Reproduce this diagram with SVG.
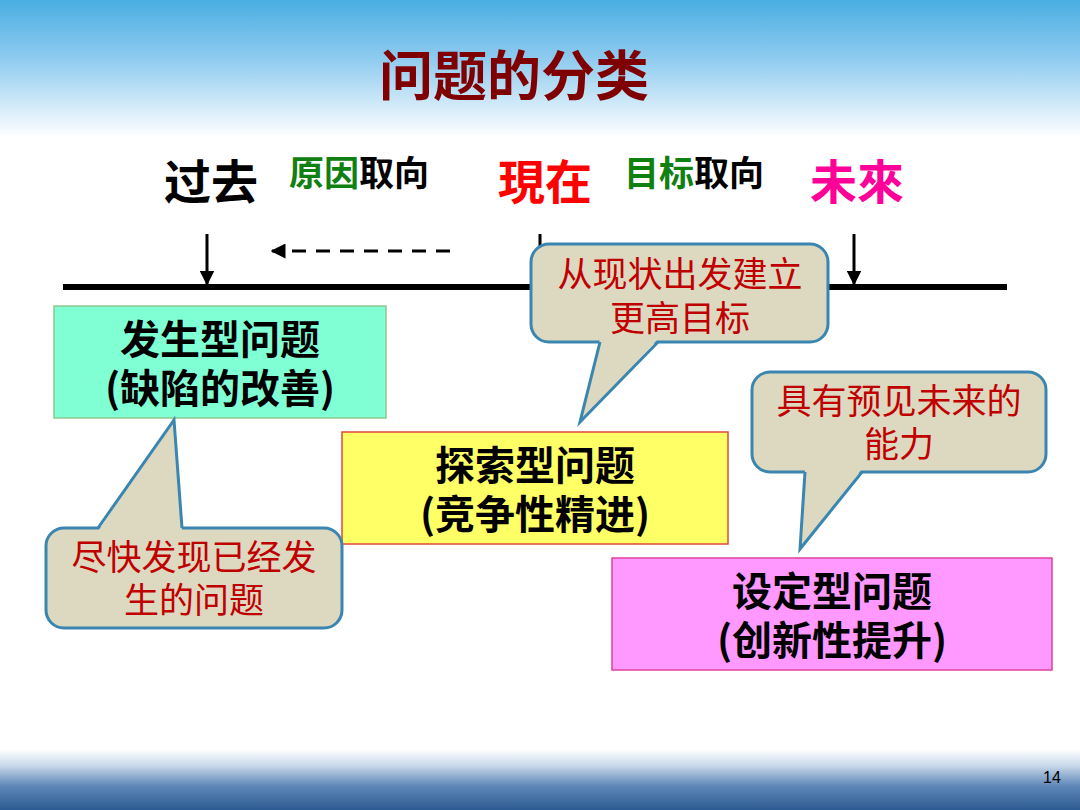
<svg xmlns="http://www.w3.org/2000/svg" width="1080" height="810" viewBox="0 0 1080 810">
<defs>
<linearGradient id="bg" x1="0" y1="0" x2="0" y2="1">
<stop offset="0" stop-color="#4aaee2"/>
<stop offset="0.07" stop-color="#8ccaef"/>
<stop offset="0.17" stop-color="#ffffff"/>
<stop offset="0.925" stop-color="#ffffff"/>
<stop offset="0.945" stop-color="#c9d9ea"/>
<stop offset="0.97" stop-color="#5f88b8"/>
<stop offset="1" stop-color="#2c5a92"/>
</linearGradient>
<marker id="ah" viewBox="0 0 10 10" refX="9" refY="5" markerWidth="5" markerHeight="5" orient="auto"><path d="M0,0 L10,5 L0,10 z" fill="#000"/></marker>
</defs>
<style>
.t{font-family:"Noto Sans CJK SC","Liberation Sans",sans-serif;text-anchor:middle}
.b{font-weight:bold}
.call{fill:#ddd8c0;stroke:#3a86b0;stroke-width:3}
.ct{fill:#c00000;font-size:35px}
.bx{font-size:40px;font-weight:bold;fill:#000}
</style>
<rect width="1080" height="810" fill="url(#bg)"/>
<text class="t b" x="514" y="96" font-size="54" fill="#7f0000">问题的分类</text>
<g id="labels">
<text class="t b" x="211" y="199" font-size="47" fill="#000">过去</text>
<text class="t b" x="359" y="186" font-size="35" fill="#000"><tspan fill="#108010">原因</tspan>取向</text>
<text class="t b" x="545" y="199" font-size="47" fill="#ff0000">現在</text>
<text class="t b" x="694" y="186" font-size="35" fill="#000"><tspan fill="#108010">目标</tspan>取向</text>
<text class="t b" x="857" y="199" font-size="47" fill="#ff0099">未來</text>
</g>
<g id="connectors" stroke="#000">
<line x1="63" y1="287" x2="1007" y2="287" stroke-width="6"/>
<line x1="207" y1="234" x2="207" y2="284" stroke-width="3" marker-end="url(#ah)"/>
<line x1="854" y1="234" x2="854" y2="284" stroke-width="3" marker-end="url(#ah)"/>
<line x1="540" y1="234" x2="540" y2="260" stroke-width="3"/>
<line x1="450" y1="251" x2="272" y2="251" stroke-width="3" stroke-dasharray="14,10" marker-end="url(#ah)"/>
</g>
<g id="node-fasheng">
<rect x="54" y="306" width="332" height="112" fill="#80ffd4" stroke="#90c890" stroke-width="1.5"/>
<text class="t bx" x="220" y="354">发生型问题</text>
<text class="t bx" x="220" y="403">(缺陷的改善)</text>
</g>
<g id="node-tansuo">
<rect x="342" y="432" width="386" height="112" fill="#ffff66" stroke="#e04a3a" stroke-width="1.5"/>
<text class="t bx" x="535" y="480">探索型问题</text>
<text class="t bx" x="535" y="529">(竞争性精进)</text>
</g>
<g id="node-sheding">
<rect x="612" y="558" width="440" height="112" fill="#ff99ff" stroke="#e0409a" stroke-width="1.5"/>
<text class="t bx" x="832" y="606">设定型问题</text>
<text class="t bx" x="832" y="655">(创新性提升)</text>
</g>
<g id="callout-1">
<rect class="call" x="531" y="244" width="297" height="98" rx="18"/>
<polygon points="600,339 658,339 580,422" fill="#ddd8c0"/>
<polyline points="600,342 580,422 658,342" fill="none" stroke="#3a86b0" stroke-width="3"/>
<text class="t ct" x="680" y="287">从现状出发建立</text>
<text class="t ct" x="680" y="331">更高目标</text>
</g>
<g id="callout-2">
<rect class="call" x="752" y="372" width="294" height="100" rx="18"/>
<polygon points="805,469 862,469 800,549" fill="#ddd8c0"/>
<polyline points="805,472 800,549 862,472" fill="none" stroke="#3a86b0" stroke-width="3"/>
<text class="t ct" x="899" y="414">具有预见未来的</text>
<text class="t ct" x="899" y="457">能力</text>
</g>
<g id="callout-3">
<rect class="call" x="46" y="528" width="296" height="100" rx="18"/>
<polygon points="98,531 182,531 174,420" fill="#ddd8c0"/>
<polyline points="98,528 174,420 182,528" fill="none" stroke="#3a86b0" stroke-width="3"/>
<text class="t ct" x="194" y="570">尽快发现已经发</text>
<text class="t ct" x="194" y="613">生的问题</text>
</g>
<text x="1052" y="783" font-family="Liberation Sans,sans-serif" font-size="16" fill="#000" text-anchor="middle">14</text>
</svg>
